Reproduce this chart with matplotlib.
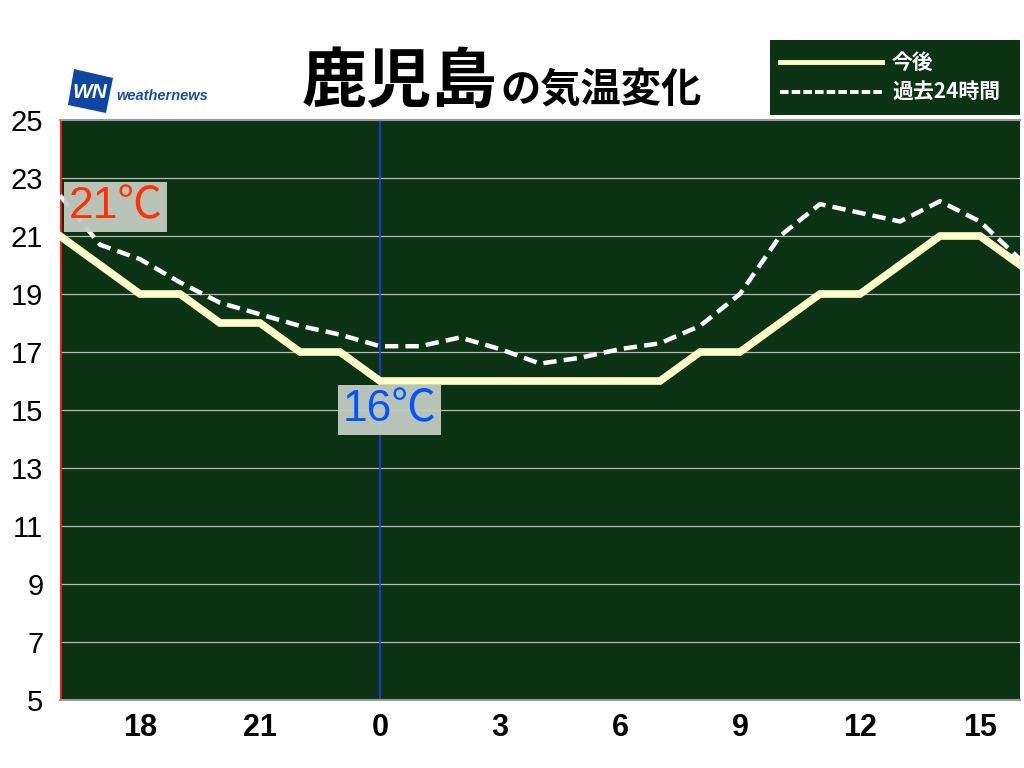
import matplotlib
matplotlib.use('Agg')
import matplotlib.pyplot as plt
from matplotlib.patches import Polygon, Rectangle
from matplotlib.lines import Line2D

# hours from 16:00 today to 16:00 tomorrow (24 = midnight)
hours = list(range(16, 41))
forecast = [21, 20, 19, 19, 18, 18, 17, 17, 16, 16, 16, 16, 16, 16, 16, 16,
            17, 17, 18, 19, 19, 20, 21, 21, 20]
past24 = [22.4, 20.7, 20.2, 19.4, 18.7, 18.3, 17.9, 17.6, 17.2, 17.2, 17.5, 17.1,
          16.6, 16.8, 17.1, 17.3, 17.9, 19.0, 21.0, 22.1, 21.8, 21.5, 22.2, 21.5, 20.2]
xtick_pos = [18, 21, 24, 27, 30, 33, 36, 39]
xtick_labels = ['18', '21', '0', '3', '6', '9', '12', '15']
yticks = [5, 7, 9, 11, 13, 15, 17, 19, 21, 23, 25]

plt.rcParams['font.family'] = ['Liberation Sans', 'Noto Sans CJK JP', 'DejaVu Sans']

bg = '#0b3314'
cream = '#ffffcc'

fig = plt.figure(figsize=(10.24, 7.68), dpi=100)
ax = fig.add_axes([60 / 1024, 68 / 768, 960 / 1024, 580 / 768])
ax.set_facecolor(bg)
ax.set_xlim(16, 40)
ax.set_ylim(5, 25)

for y in yticks[1:-1]:
    ax.axhline(y, color='#b8b8b8', lw=0.9, zorder=1)

ax.axvline(24, color='#1a3cff', lw=1.2, zorder=2)
ax.axvline(16, color='#ff1a1a', lw=2, zorder=2)

ax.plot(hours, past24, color='white', lw=3.2, dashes=(3, 1.6), zorder=3)
ax.plot(hours, forecast, color=cream, lw=5.5, solid_joinstyle='miter', zorder=4)

ax.set_yticks(yticks)
ax.set_yticklabels([str(v) for v in yticks], fontsize=21)
ax.set_xticks(xtick_pos)
ax.set_xticklabels(xtick_labels, fontsize=22, fontweight='bold')
ax.tick_params(axis='y', length=0, pad=12)
ax.tick_params(axis='x', length=0, pad=9)
for s in ['left', 'right']:
    ax.spines[s].set_visible(False)
ax.spines['top'].set_color('#999999')
ax.spines['bottom'].set_color('#999999')
ax.spines['top'].set_linewidth(1.5)
ax.spines['bottom'].set_linewidth(1.5)

box = dict(boxstyle='square,pad=0.1', fc='#c2ccc2', ec='none', alpha=0.95)
ax.annotate('21℃', xy=(16, 22.0), xytext=(6, 0), textcoords='offset points',
            ha='left', va='center', fontsize=32, color='#ff3300', bbox=box, zorder=6)
ax.annotate('16℃', xy=(24, 15.0), xytext=(-27, 0), textcoords='offset points',
            ha='left', va='center', fontsize=32, color='#0055ff', bbox=box, zorder=6)

# title
fig.text(302 / 1024, 1 - 102 / 768, '鹿児島', fontsize=47, fontweight='bold',
         family=['Noto Sans CJK JP'], ha='left', va='baseline')
fig.text(500 / 1024, 1 - 102 / 768, 'の気温変化', fontsize=29, fontweight='bold',
         family=['Noto Sans CJK JP'], ha='left', va='baseline')

# logo
W, H = 1024, 768
logo = Polygon([(74 / W, 1 - 69 / H), (113 / W, 1 - 78 / H), (106 / W, 1 - 113 / H),
                (68 / W, 1 - 105 / H)], closed=True, fc='#0d47a1', ec='none',
               transform=fig.transFigure)
fig.patches.append(logo)
fig.text(90 / W, 1 - 92 / H, 'WN', fontsize=15, fontweight='bold', style='italic',
         color='white', ha='center', va='center')
fig.text(116 / W, 1 - 96 / H, 'weathernews', fontsize=10.5, fontweight='bold',
         style='italic', color='#1a4fa3', ha='left', va='center')

# legend box
fig.patches.append(Rectangle((770 / W, 1 - 115 / H), 250 / W, 75 / H,
                             transform=fig.transFigure, fc=bg, ec='none'))
fig.lines.append(Line2D([780 / W, 882 / W], [1 - 62 / H, 1 - 62 / H], color=cream, lw=3.5,
                        transform=fig.transFigure))
fig.lines.append(Line2D([780 / W, 882 / W], [1 - 92 / H, 1 - 92 / H], color='white', lw=2.8,
                        dashes=(2.2, 0.8), transform=fig.transFigure))
fig.text(892 / W, 1 - 62 / H, '今後', fontsize=15, fontweight='bold', color='white',
         ha='left', va='center', family=['Noto Sans CJK JP'])
fig.text(892 / W, 1 - 92 / H, '過去24時間', fontsize=15, fontweight='bold', color='white',
         ha='left', va='center', family=['Noto Sans CJK JP'])

fig.savefig('out.png', dpi=100)
